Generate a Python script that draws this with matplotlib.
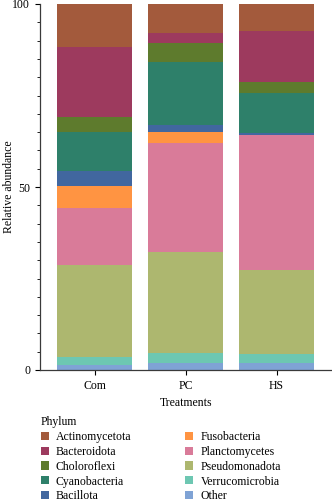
import matplotlib
matplotlib.use("Agg")
import matplotlib.pyplot as plt
import numpy as np
from matplotlib.ticker import MultipleLocator

treatments = ["Com", "PC", "HS"]
phyla = [
    "Actinomycetota", "Bacteroidota", "Choloroflexi", "Cyanobacteria", "Bacillota",
    "Fusobacteria", "Planctomycetes", "Pseudomonadota", "Verrucomicrobia", "Other",
]
colors = [
    "#A35A3C", "#9D3A5E", "#5E7B2D", "#2E806A", "#41679F",
    "#FF9442", "#D97B99", "#ADB76F", "#6DC7B2", "#7FA3D5",
]

# relative abundance (%) per treatment, same order as phyla
com = [11.7, 19.3, 4.1, 10.4, 4.3, 5.9, 15.5, 25.3, 2.0, 1.5]
pc = [7.8, 2.8, 5.2, 17.3, 2.0, 2.9, 29.8, 27.6, 2.6, 2.0]
hs = [7.3, 14.1, 2.8, 11.1, 0.4, 0.1, 36.8, 23.0, 2.4, 2.0]

plt.rcParams["font.family"] = ["Liberation Serif", "DejaVu Serif"]
plt.rcParams["font.size"] = 8.5

fig = plt.figure(figsize=(3.32, 5.0), dpi=100)
ax = fig.add_axes([0.1205, 0.26, 0.877, 0.732])

data = np.array([com, pc, hs]).T
x = np.arange(len(treatments))

# stack from the bottom: Other first, Actinomycetota on top
bottom = np.zeros(len(treatments))
handles = {}
for idx in range(len(phyla) - 1, -1, -1):
    bars = ax.bar(x, data[idx], width=0.83, bottom=bottom, color=colors[idx],
                  label=phyla[idx], linewidth=0)
    handles[phyla[idx]] = bars
    bottom += data[idx]

ax.set_xlim(-0.6, 2.6)
ax.set_ylim(0, 100)
ax.set_xticks(x)
ax.set_xticklabels(treatments)
ax.set_yticks([0, 50, 100])
ax.yaxis.set_minor_locator(MultipleLocator(5))
ax.tick_params(axis="both", which="major", direction="out", length=3.5, width=0.8, labelsize=8.5)
ax.tick_params(axis="y", which="minor", direction="out", length=2, width=0.6)
ax.spines["top"].set_visible(False)
ax.spines["right"].set_visible(False)
for side in ("left", "bottom"):
    ax.spines[side].set_color("#3a3a3a")
    ax.spines[side].set_linewidth(0.9)

ax.set_xlabel("Treatments", fontsize=8.5, labelpad=4)
ax.set_ylabel("Relative abundance", fontsize=8.5, labelpad=-2)

legend = fig.legend(
    [handles[p] for p in phyla], phyla,
    loc="upper left", bbox_to_anchor=(0.123, 0.168), ncol=2,
    frameon=False, title="Phylum", title_fontsize=8.5, fontsize=8.5,
    handlelength=0.68, handleheight=0.68, handletextpad=0.6,
    columnspacing=4.55, labelspacing=0.245, alignment="left",
    borderaxespad=0, borderpad=0,
)

fig.savefig("out.png", dpi=100)
